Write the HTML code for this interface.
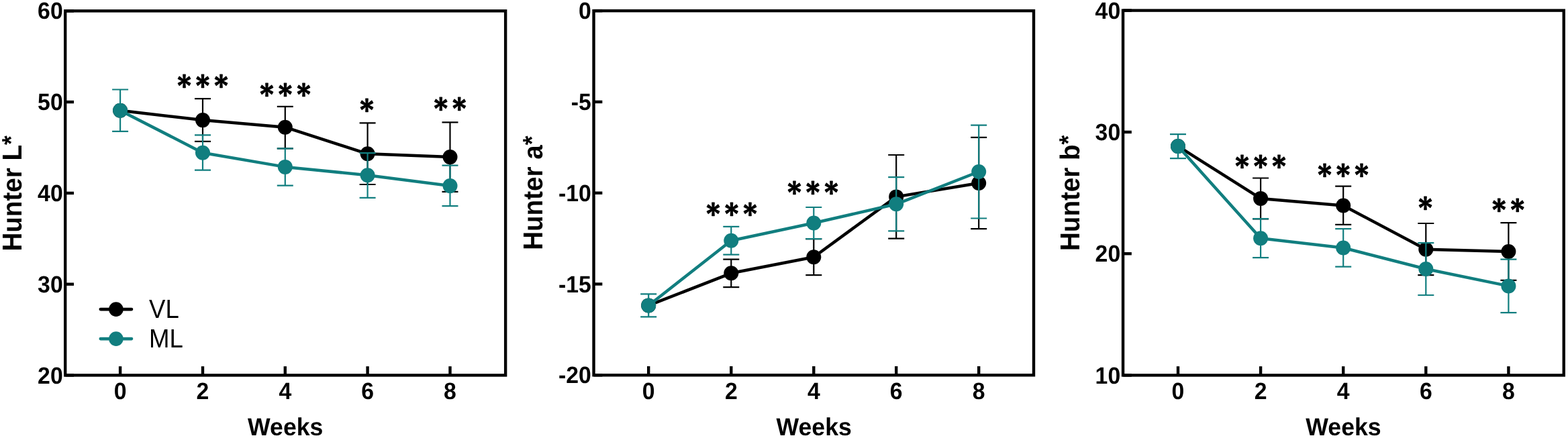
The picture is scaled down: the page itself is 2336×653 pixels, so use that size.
<!DOCTYPE html>
<html lang="en"><head><meta charset="utf-8"><title>Hunter color values over weeks</title>
<style>
html,body{margin:0;padding:0;background:#fff;width:2336px;height:653px;overflow:hidden}
svg{display:block;filter:blur(0.35px)}
text{font-family:"Liberation Sans",Arial,Helvetica,sans-serif;fill:#000;text-rendering:geometricPrecision}
.tk{font-size:33.8px;font-weight:bold}
.ti{font-size:38.6px;font-weight:bold}
.wk{font-size:35.7px;font-weight:bold}
.as{font-size:0.92em}
.lg{font-size:36.6px;font-weight:normal}
.st{font-family:"DejaVu Serif","DejaVu Sans",serif;font-size:41.6px;font-weight:bold;stroke:#000;stroke-width:1.4px;stroke-linejoin:round}
.ax rect,.ax line{fill:none;stroke:#000;stroke-width:4.4;stroke-linecap:butt;stroke-linejoin:miter}
.k .l,.t .l{fill:none;stroke-width:4.5;stroke-linejoin:round;stroke-linecap:round}
.k .e,.t .e{fill:none;stroke-width:2.2;stroke-linecap:butt}
.k .l,.k .e{stroke:#000} .k circle{fill:#000}
.t .l,.t .e{stroke:#117e7f} .t circle{fill:#117e7f}
.leg line{stroke-width:4.6;stroke-linecap:round}
</style></head><body>
<svg width="2336" height="653" viewBox="0 0 2336 653">
<g class="ax">
<rect x="97.2" y="16.3" width="655.95" height="543.15"/>
<line x1="97.2" y1="16.3" x2="110" y2="16.3"/>
<line x1="97.2" y1="152.05" x2="110" y2="152.05"/>
<line x1="97.2" y1="287.9" x2="110" y2="287.9"/>
<line x1="97.2" y1="423.7" x2="110" y2="423.7"/>
<line x1="97.2" y1="559.45" x2="110" y2="559.45"/>
<line x1="179.1" y1="559.45" x2="179.1" y2="546.15"/>
<line x1="302" y1="559.45" x2="302" y2="546.15"/>
<line x1="424.8" y1="559.45" x2="424.8" y2="546.15"/>
<line x1="547.6" y1="559.45" x2="547.6" y2="546.15"/>
<line x1="670.5" y1="559.45" x2="670.5" y2="546.15"/>
</g>
<text class="tk" text-anchor="end" transform="translate(93.7 28.41) scale(1 1.04)">60</text>
<text class="tk" text-anchor="end" transform="translate(93.7 164.16) scale(1 1.04)">50</text>
<text class="tk" text-anchor="end" transform="translate(93.7 300.01) scale(1 1.04)">40</text>
<text class="tk" text-anchor="end" transform="translate(93.7 435.81) scale(1 1.04)">30</text>
<text class="tk" text-anchor="end" transform="translate(93.7 571.56) scale(1 1.04)">20</text>
<text class="tk" text-anchor="middle" transform="translate(179.1 594.5) scale(1 1.04)">0</text>
<text class="tk" text-anchor="middle" transform="translate(302 594.5) scale(1 1.04)">2</text>
<text class="tk" text-anchor="middle" transform="translate(424.8 594.5) scale(1 1.04)">4</text>
<text class="tk" text-anchor="middle" transform="translate(547.6 594.5) scale(1 1.04)">6</text>
<text class="tk" text-anchor="middle" transform="translate(670.5 594.5) scale(1 1.04)">8</text>
<text class="ti" text-anchor="middle" transform="translate(32.4 288.35) rotate(-90) scale(1 1.055)">Hunter L<tspan class="as" dy="-3.5">*</tspan></text>
<text class="wk" text-anchor="middle" transform="translate(425.25 648.8) scale(1 1.03)">Weeks</text>
<g class="k">
<path class="e" d="M302 147.2V210.9M290 147.2H314M290 210.9H314"/>
<path class="e" d="M424.8 158.8V221.4M412.8 158.8H436.8M412.8 221.4H436.8"/>
<path class="e" d="M547.6 183.3V275M535.6 183.3H559.6M535.6 275H559.6"/>
<path class="e" d="M670.5 182.4V285.9M658.5 182.4H682.5M658.5 285.9H682.5"/>
<polyline class="l" points="179.1,164.7 302,179.1 424.8,189.7 547.6,229.3 670.5,234.1"/>
<circle cx="179.1" cy="164.7" r="11.0"/>
<circle cx="302" cy="179.1" r="11.0"/>
<circle cx="424.8" cy="189.7" r="11.0"/>
<circle cx="547.6" cy="229.3" r="11.0"/>
<circle cx="670.5" cy="234.1" r="11.0"/>
</g>
<g class="t">
<path class="e" d="M179.1 133.5V195.9M167.1 133.5H191.1M167.1 195.9H191.1"/>
<path class="e" d="M302 201.3V253.7M290 201.3H314M290 253.7H314"/>
<path class="e" d="M424.8 221.4V276.6M412.8 221.4H436.8M412.8 276.6H436.8"/>
<path class="e" d="M547.6 228.1V294.8M535.6 228.1H559.6M535.6 294.8H559.6"/>
<path class="e" d="M670.5 246.7V307.2M658.5 246.7H682.5M658.5 307.2H682.5"/>
<polyline class="l" points="179.1,164.7 302,227.7 424.8,248.9 547.6,261.2 670.5,277.1"/>
<circle cx="179.1" cy="164.7" r="11.0"/>
<circle cx="302" cy="227.7" r="11.0"/>
<circle cx="424.8" cy="248.9" r="11.0"/>
<circle cx="547.6" cy="261.2" r="11.0"/>
<circle cx="670.5" cy="277.1" r="11.0"/>
</g>
<text class="st" style="letter-spacing:8.13px" transform="translate(274.5 141.59) scale(0.92 1)" x="-10.86">***</text>
<text class="st" style="letter-spacing:8.13px" transform="translate(397.4 154.69) scale(0.92 1)" x="-10.86">***</text>
<text class="st" style="letter-spacing:8.13px" transform="translate(546.5 177.59) scale(0.92 1)" x="-10.86">*</text>
<text class="st" style="letter-spacing:8.13px" transform="translate(656.65 175.69) scale(0.92 1)" x="-10.86">**</text>
<g class="ax">
<rect x="884.55" y="16.1" width="655.45" height="543.2"/>
<line x1="884.55" y1="16.1" x2="897.35" y2="16.1"/>
<line x1="884.55" y1="151.9" x2="897.35" y2="151.9"/>
<line x1="884.55" y1="287.7" x2="897.35" y2="287.7"/>
<line x1="884.55" y1="423.5" x2="897.35" y2="423.5"/>
<line x1="884.55" y1="559.3" x2="897.35" y2="559.3"/>
<line x1="966.2" y1="559.3" x2="966.2" y2="546"/>
<line x1="1089.3" y1="559.3" x2="1089.3" y2="546"/>
<line x1="1212.3" y1="559.3" x2="1212.3" y2="546"/>
<line x1="1335.2" y1="559.3" x2="1335.2" y2="546"/>
<line x1="1458.2" y1="559.3" x2="1458.2" y2="546"/>
</g>
<text class="tk" text-anchor="end" transform="translate(880.9 28.21) scale(1 1.04)">0</text>
<text class="tk" text-anchor="end" transform="translate(880.9 164.01) scale(1 1.04)">-5</text>
<text class="tk" text-anchor="end" transform="translate(880.9 299.81) scale(1 1.04)">-10</text>
<text class="tk" text-anchor="end" transform="translate(880.9 435.61) scale(1 1.04)">-15</text>
<text class="tk" text-anchor="end" transform="translate(880.9 571.41) scale(1 1.04)">-20</text>
<text class="tk" text-anchor="middle" transform="translate(966.2 594.5) scale(1 1.04)">0</text>
<text class="tk" text-anchor="middle" transform="translate(1089.3 594.5) scale(1 1.04)">2</text>
<text class="tk" text-anchor="middle" transform="translate(1212.3 594.5) scale(1 1.04)">4</text>
<text class="tk" text-anchor="middle" transform="translate(1335.2 594.5) scale(1 1.04)">6</text>
<text class="tk" text-anchor="middle" transform="translate(1458.2 594.5) scale(1 1.04)">8</text>
<text class="ti" text-anchor="middle" transform="translate(808.3 287.7) rotate(-90) scale(1 1.055)">Hunter a<tspan class="as" dy="-3.5">*</tspan></text>
<text class="wk" text-anchor="middle" transform="translate(1212.7 648.8) scale(1 1.03)">Weeks</text>
<g class="k">
<path class="e" d="M1089.3 386.7V428.2M1077.3 386.7H1101.3M1077.3 428.2H1101.3"/>
<path class="e" d="M1212.3 356.2V410.2M1200.3 356.2H1224.3M1200.3 410.2H1224.3"/>
<path class="e" d="M1335.2 231V355.6M1323.2 231H1347.2M1323.2 355.6H1347.2"/>
<path class="e" d="M1458.2 204.8V341.2M1446.2 204.8H1470.2M1446.2 341.2H1470.2"/>
<polyline class="l" points="966.2,455.4 1089.3,407.3 1212.3,383.2 1335.2,293.4 1458.2,273"/>
<circle cx="966.2" cy="455.4" r="11.0"/>
<circle cx="1089.3" cy="407.3" r="11.0"/>
<circle cx="1212.3" cy="383.2" r="11.0"/>
<circle cx="1335.2" cy="293.4" r="11.0"/>
<circle cx="1458.2" cy="273" r="11.0"/>
</g>
<g class="t">
<path class="e" d="M966.2 438.4V472.3M954.2 438.4H978.2M954.2 472.3H978.2"/>
<path class="e" d="M1089.3 337.9V379.6M1077.3 337.9H1101.3M1077.3 379.6H1101.3"/>
<path class="e" d="M1212.3 309V356.2M1200.3 309H1224.3M1200.3 356.2H1224.3"/>
<path class="e" d="M1335.2 264.1V344.4M1323.2 264.1H1347.2M1323.2 344.4H1347.2"/>
<path class="e" d="M1458.2 186.6V325.5M1446.2 186.6H1470.2M1446.2 325.5H1470.2"/>
<polyline class="l" points="966.2,455.4 1089.3,358.7 1212.3,332.5 1335.2,304.3 1458.2,256"/>
<circle cx="966.2" cy="455.4" r="11.0"/>
<circle cx="1089.3" cy="358.7" r="11.0"/>
<circle cx="1212.3" cy="332.5" r="11.0"/>
<circle cx="1335.2" cy="304.3" r="11.0"/>
<circle cx="1458.2" cy="256" r="11.0"/>
</g>
<text class="st" style="letter-spacing:8.13px" transform="translate(1062.5 332.69) scale(0.92 1)" x="-10.86">***</text>
<text class="st" style="letter-spacing:8.13px" transform="translate(1183.6 300.69) scale(0.92 1)" x="-10.86">***</text>
<g class="ax">
<rect x="1673.05" y="15.6" width="656.7" height="543.85"/>
<line x1="1673.05" y1="15.6" x2="1685.85" y2="15.6"/>
<line x1="1673.05" y1="196.9" x2="1685.85" y2="196.9"/>
<line x1="1673.05" y1="378.2" x2="1685.85" y2="378.2"/>
<line x1="1673.05" y1="559.45" x2="1685.85" y2="559.45"/>
<line x1="1755" y1="559.45" x2="1755" y2="546.15"/>
<line x1="1878.1" y1="559.45" x2="1878.1" y2="546.15"/>
<line x1="2001.2" y1="559.45" x2="2001.2" y2="546.15"/>
<line x1="2124.3" y1="559.45" x2="2124.3" y2="546.15"/>
<line x1="2247.4" y1="559.45" x2="2247.4" y2="546.15"/>
</g>
<text class="tk" text-anchor="end" transform="translate(1669.2 27.71) scale(1 1.04)">40</text>
<text class="tk" text-anchor="end" transform="translate(1669.2 209.01) scale(1 1.04)">30</text>
<text class="tk" text-anchor="end" transform="translate(1669.2 390.31) scale(1 1.04)">20</text>
<text class="tk" text-anchor="end" transform="translate(1669.2 571.56) scale(1 1.04)">10</text>
<text class="tk" text-anchor="middle" transform="translate(1755 594.5) scale(1 1.04)">0</text>
<text class="tk" text-anchor="middle" transform="translate(1878.1 594.5) scale(1 1.04)">2</text>
<text class="tk" text-anchor="middle" transform="translate(2001.2 594.5) scale(1 1.04)">4</text>
<text class="tk" text-anchor="middle" transform="translate(2124.3 594.5) scale(1 1.04)">6</text>
<text class="tk" text-anchor="middle" transform="translate(2247.4 594.5) scale(1 1.04)">8</text>
<text class="ti" text-anchor="middle" transform="translate(1608.1 287.8) rotate(-90) scale(1 1.055)">Hunter b<tspan class="as" dy="-3.5">*</tspan></text>
<text class="wk" text-anchor="middle" transform="translate(2001.5 648.8) scale(1 1.03)">Weeks</text>
<g class="k">
<path class="e" d="M1878.1 265.5V326.3M1866.1 265.5H1890.1M1866.1 326.3H1890.1"/>
<path class="e" d="M2001.2 277.7V334.8M1989.2 277.7H2013.2M1989.2 334.8H2013.2"/>
<path class="e" d="M2124.3 333V410.2M2112.3 333H2136.3M2112.3 410.2H2136.3"/>
<path class="e" d="M2247.4 332.1V417.9M2235.4 332.1H2259.4M2235.4 417.9H2259.4"/>
<polyline class="l" points="1755,218 1878.1,295.9 2001.2,306.5 2124.3,371.7 2247.4,375"/>
<circle cx="1755" cy="218" r="11.0"/>
<circle cx="1878.1" cy="295.9" r="11.0"/>
<circle cx="2001.2" cy="306.5" r="11.0"/>
<circle cx="2124.3" cy="371.7" r="11.0"/>
<circle cx="2247.4" cy="375" r="11.0"/>
</g>
<g class="t">
<path class="e" d="M1755 200.2V236.1M1743 200.2H1767M1743 236.1H1767"/>
<path class="e" d="M1878.1 326.2V384.1M1866.1 326.2H1890.1M1866.1 384.1H1890.1"/>
<path class="e" d="M2001.2 341.2V397.7M1989.2 341.2H2013.2M1989.2 397.7H2013.2"/>
<path class="e" d="M2124.3 362.2V440M2112.3 362.2H2136.3M2112.3 440H2136.3"/>
<path class="e" d="M2247.4 386.7V466.1M2235.4 386.7H2259.4M2235.4 466.1H2259.4"/>
<polyline class="l" points="1755,218.1 1878.1,355.2 2001.2,369.5 2124.3,401 2247.4,426.4"/>
<circle cx="1755" cy="218.1" r="11.0"/>
<circle cx="1878.1" cy="355.2" r="11.0"/>
<circle cx="2001.2" cy="369.5" r="11.0"/>
<circle cx="2124.3" cy="401" r="11.0"/>
<circle cx="2247.4" cy="426.4" r="11.0"/>
</g>
<text class="st" style="letter-spacing:8.13px" transform="translate(1850.6 261.69) scale(0.92 1)" x="-10.86">***</text>
<text class="st" style="letter-spacing:8.13px" transform="translate(1973.5 274.79) scale(0.92 1)" x="-10.86">***</text>
<text class="st" style="letter-spacing:8.13px" transform="translate(2123.6 323.79) scale(0.92 1)" x="-10.86">*</text>
<text class="st" style="letter-spacing:8.13px" transform="translate(2233.25 326.59) scale(0.92 1)" x="-10.86">**</text>
<g class="leg">
<line x1="149.8" y1="461.1" x2="196" y2="461.1" stroke="#000"/>
<circle cx="172.9" cy="461.1" r="10.8" fill="#000"/>
<line x1="149.8" y1="505.1" x2="196" y2="505.1" stroke="#117e7f"/>
<circle cx="172.9" cy="505.1" r="10.8" fill="#117e7f"/>
</g>
<text class="lg" transform="translate(222.0 473.8) scale(1 1.07)">VL</text>
<text class="lg" transform="translate(222.0 517.8) scale(1 1.07)">ML</text>
</svg>
</body></html>
